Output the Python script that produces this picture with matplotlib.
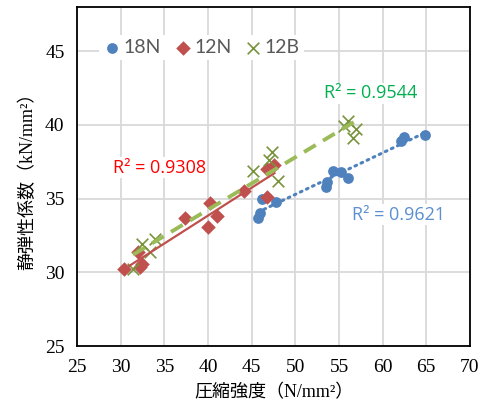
import numpy as np
import matplotlib
matplotlib.use("Agg")
import matplotlib.pyplot as plt
from matplotlib.ticker import StrMethodFormatter

# data
x18N = [45.7, 45.9, 46.2, 47.8, 53.5, 53.6, 54.3, 55.2, 56.0, 62.1, 62.4, 64.8]
y18N = [33.7, 34.0, 35.0, 34.8, 35.8, 36.1, 36.9, 36.8, 36.4, 38.9, 39.2, 39.3]
x12N = [30.4, 32.0, 32.2, 32.4, 37.4, 40.0, 40.2, 41.0, 44.1, 46.7, 46.8, 47.6]
y12N = [30.2, 31.4, 30.4, 30.6, 33.7, 33.1, 34.7, 33.8, 35.5, 35.1, 37.0, 37.3]
x12B = [31.4, 32.4, 33.3, 33.9, 45.1, 47.0, 47.3, 48.0, 55.6, 56.0, 56.6, 57.0]
y12B = [30.2, 31.9, 31.4, 32.3, 36.9, 37.6, 38.2, 36.2, 39.9, 40.3, 39.1, 39.7]
r2_labels = ["R² = 0.9621", "R² = 0.9308", "R² = 0.9544"]

blue = "#4F81BD"
red = "#C0504D"
green = "#77933C"
serif_jp = ["Liberation Serif", "Noto Sans CJK JP"]

fig = plt.figure(figsize=(4.82, 4.16), dpi=100)
ax = fig.add_axes([0.160, 0.168, 0.815, 0.815])

ax.scatter(x18N, y18N, s=60, marker="o", color=blue, label="18N", zorder=3, linewidths=0)
ax.scatter(x12N, y12N, s=55, marker="D", color=red, label="12N", zorder=3, linewidths=0)
ax.scatter(x12B, y12B, s=70, marker="x", color=green, label="12B", zorder=3, linewidths=1.2)

# linear trendlines
def trend(x, y):
    p = np.polyfit(x, y, 1)
    xs = np.array([min(x), max(x)])
    return xs, np.polyval(p, xs)

xs, ys = trend(x18N, y18N)
ax.plot(xs, ys, color=blue, lw=2.2, ls=(0, (0.6, 1.6)), dash_capstyle="round", zorder=4)
xs, ys = trend(x12N, y12N)
ax.plot(xs, ys, color=red, lw=1.6, zorder=4)
xs, ys = trend(x12B, y12B)
ax.plot(xs, ys, color="#9BBB59", lw=2.8, ls=(0, (3.5, 2.2)), zorder=4)

box = dict(facecolor="white", edgecolor="none", pad=1)
tfont = ["Open Sans", "DejaVu Sans"]
ax.text(56.5, 33.9, r2_labels[0], color="#5B8FD0", fontsize=13, family=tfont,
        va="center", bbox=box, zorder=5)
ax.text(29.1, 37.1, r2_labels[1], color="#FF0000", fontsize=13, family=tfont,
        va="center", bbox=box, zorder=5)
ax.text(53.3, 42.15, r2_labels[2], color="#00B050", fontsize=13, family=tfont,
        va="center", bbox=box, zorder=5)

ax.set_xlim(25, 70)
ax.set_ylim(25, 48)
ax.set_xticks(np.arange(25, 71, 5))
ax.set_yticks(np.arange(25, 46, 5))
ax.xaxis.set_major_formatter(StrMethodFormatter("{x:.0f}"))
ax.yaxis.set_major_formatter(StrMethodFormatter("{x:.0f}"))
ax.grid(True, color="#D9D9D9", lw=1.3)
ax.set_axisbelow(True)
ax.tick_params(length=0, pad=9, labelsize=14, labelfontfamily="Liberation Serif")
for sp in ax.spines.values():
    sp.set_linewidth(1.3)
    sp.set_color("black")

ax.set_xlabel("圧縮強度（N/mm²）", fontsize=13, family=serif_jp, labelpad=6)
ax.set_ylabel("静弾性係数（kN/mm²）", fontsize=13, family=serif_jp, labelpad=6)

leg = ax.legend(loc="upper left", bbox_to_anchor=(0.03, 0.945), ncol=3, frameon=True,
                fancybox=False, edgecolor="none", framealpha=1, handletextpad=0.1,
                columnspacing=0.6, borderpad=0.2, handlelength=1.0,
                prop={"family": "Lato", "size": 14})
for t in leg.get_texts():
    t.set_color("#595959")

fig.savefig("out.png", dpi=100)
